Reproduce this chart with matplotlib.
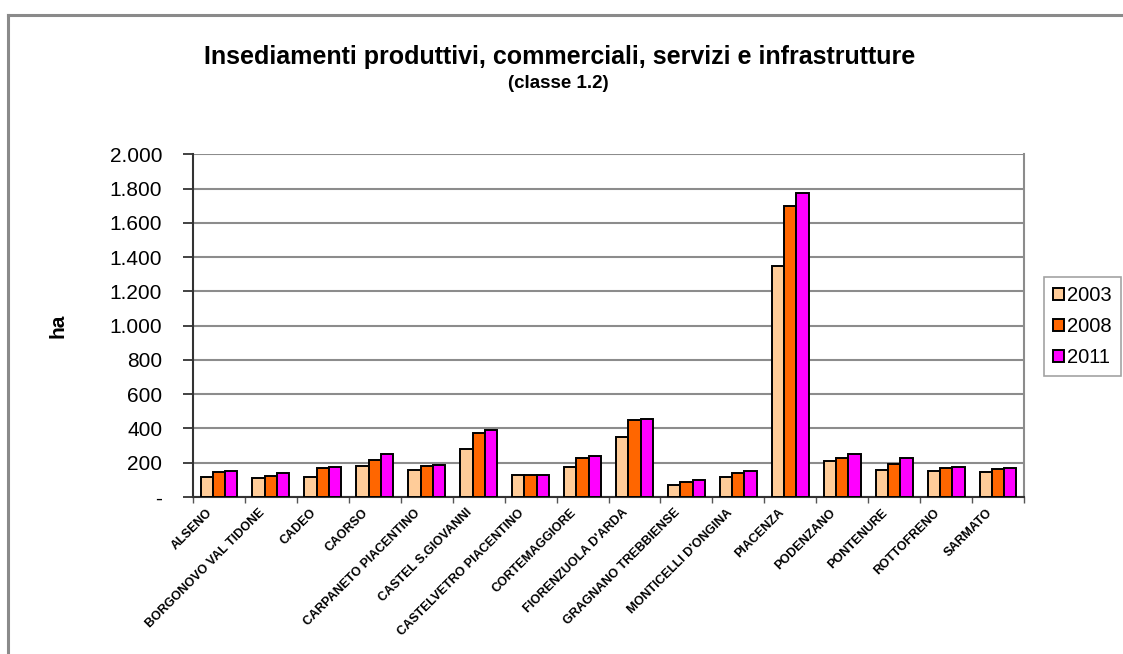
import matplotlib
matplotlib.use("Agg")
import matplotlib.pyplot as plt
import numpy as np
from matplotlib.lines import Line2D
from matplotlib.ticker import FuncFormatter
import matplotlib.transforms as mtransforms

plt.rcParams['font.family'] = ['Liberation Sans', 'DejaVu Sans']

comuni = ["ALSENO", "BORGONOVO VAL TIDONE", "CADEO", "CAORSO", "CARPANETO PIACENTINO",
          "CASTEL S.GIOVANNI", "CASTELVETRO PIACENTINO", "CORTEMAGGIORE", "FIORENZUOLA D'ARDA",
          "GRAGNANO TREBBIENSE", "MONTICELLI D'ONGINA", "PIACENZA", "PODENZANO", "PONTENURE",
          "ROTTOFRENO", "SARMATO"]
v2003 = [116, 112, 118, 180, 159, 279, 130, 174, 349, 68, 116, 1346, 208, 156, 153, 148]
v2008 = [143, 124, 169, 215, 178, 372, 130, 227, 448, 87, 138, 1698, 226, 194, 167, 163]
v2011 = [149, 138, 173, 252, 188, 390, 130, 242, 453, 99, 151, 1772, 249, 226, 173, 169]
anni = ["2003", "2008", "2011"]
colori = ["#FFCC99", "#FF6600", "#FF00FF"]
yticks = [0, 200, 400, 600, 800, 1000, 1200, 1400, 1600, 1800, 2000]

W, H = 1123, 654
fig = plt.figure(figsize=(W / 100, H / 100), dpi=100)
fig.patch.set_facecolor("white")

# outer frame (cut by page)
fig.add_artist(Line2D([8 / W, 1.0], [1 - 15 / H, 1 - 15 / H], transform=fig.transFigure,
                      color="#8a8a8a", lw=2.2))
fig.add_artist(Line2D([8 / W, 8 / W], [0, 1 - 15 / H], transform=fig.transFigure,
                      color="#8a8a8a", lw=2.2))

ax = fig.add_axes([192.7 / W, 157 / H, (1024.3 - 192.7) / W, (497 - 154.3) / H])
n = len(comuni)
x = np.arange(n)
bw = 0.233
series = [v2003, v2008, v2011]
for i, (vals, c, lab) in enumerate(zip(series, colori, anni)):
    ax.bar(x + (i - 1) * bw, vals, width=bw, color=c, edgecolor="black", linewidth=1.4,
           label=lab, zorder=3)

ax.set_xlim(-0.5, n - 0.5)
ax.set_ylim(0, 2000)
ax.set_yticks(yticks)
ax.yaxis.set_major_formatter(FuncFormatter(
    lambda v, p: "-" if v == 0 else f"{int(v):,}".replace(",", ".")))
ax.grid(axis="y", color="#8c8c8c", linewidth=1.5, zorder=0)
ax.set_axisbelow(True)

ax.spines["top"].set_visible(False)
ax.spines["right"].set_color("#8c8c8c")
ax.spines["right"].set_linewidth(1.5)
ax.spines["left"].set_color("#333333")
ax.spines["left"].set_linewidth(1.5)
ax.spines["bottom"].set_color("#333333")
ax.spines["bottom"].set_linewidth(1.5)

ax.tick_params(axis="y", length=7, width=1.3, color="#333333", pad=15, labelsize=15)
ax.set_xticks(np.arange(n + 1) - 0.5, minor=True)
ax.set_xticks(x)
ax.tick_params(axis="x", which="minor", length=4, width=1.0, color="#555555")
ax.tick_params(axis="x", which="major", length=0, pad=7)
ax.set_xticklabels(comuni, rotation=45, ha="right", va="top", rotation_mode="anchor",
                   fontsize=9, fontweight="bold")
offset = mtransforms.ScaledTranslation(-9 / 72, 0, fig.dpi_scale_trans)
for lbl in ax.get_xticklabels():
    lbl.set_transform(lbl.get_transform() + offset)

ax.set_ylabel("ha", fontsize=15, fontweight="bold", labelpad=30)

fig.text(560 / W, 1 - 64 / H, "Insediamenti produttivi, commerciali, servizi e infrastrutture",
         ha="center", va="baseline", fontsize=18, fontweight="bold")
fig.text(558 / W, 1 - 88 / H, "(classe 1.2)", ha="center", va="baseline",
         fontsize=13.5, fontweight="bold")

leg = ax.legend(loc="upper left", bbox_to_anchor=(1044 / W, 1 - 277 / H),
                bbox_transform=fig.transFigure, fontsize=14.5, frameon=True, fancybox=False,
                edgecolor="#8c8c8c", handlelength=0.55, handleheight=0.55, handletextpad=0.15,
                labelspacing=0.6, borderpad=0.45, borderaxespad=0)
leg.get_frame().set_linewidth(1.2)

fig.savefig("out.png", dpi=100, facecolor="white")
